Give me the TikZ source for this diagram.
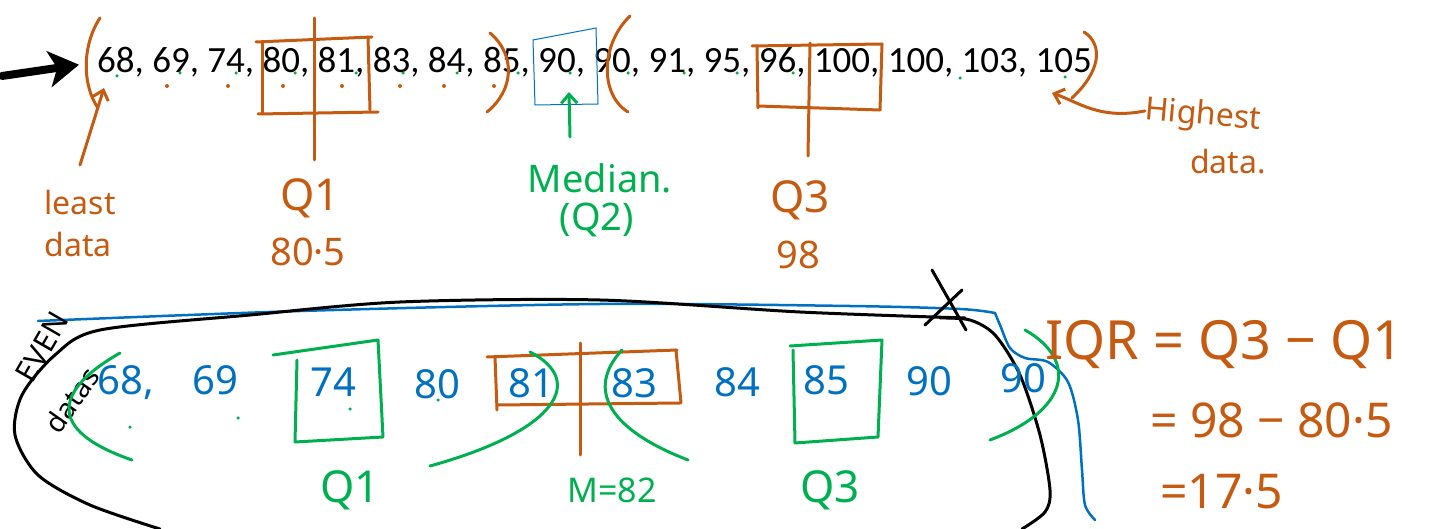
\documentclass[tikz,border=0pt]{standalone}
\usepackage{fontspec}
\setmainfont{Carlito}
\newfontfamily\hand{Noto Sans}
\usetikzlibrary{arrows.meta,calc}
\definecolor{orng}{HTML}{C55A11}
\definecolor{grn}{HTML}{00B050}
\definecolor{blu}{HTML}{0070C0}
\tikzset{
  ink/.style={line width=3pt,line cap=round,line join=round},
  oink/.style={ink,draw=orng},
  gink/.style={ink,draw=grn},
  bink/.style={ink,draw=blu,line width=2.5pt},
  kink/.style={ink,draw=black},
  hw/.style={inner sep=0pt,font=\hand},
  odot/.style={circle,fill=orng,inner sep=0pt,minimum size=4pt},
  gdot/.style={circle,fill=grn,inner sep=0pt,minimum size=4pt},
}
\begin{document}
\begin{tikzpicture}[x=1pt,y=-1pt]
\useasboundingbox (0,0) rectangle (1437,529);
% ---------- top data row ----------
\node[anchor=base west,inner sep=0pt,font=\fontsize{37}{40}\selectfont] (row) at (97,73)
  {68, 69, 74, 80, 81, 83, 84, 85, 90, 90, 91, 95, 96, 100, 100, 103, 105};
\coordinate (ain) at (2,76);
\draw[kink,line width=8pt,-{Stealth[length=30pt,width=36pt,inset=8pt]}] (ain) -- ($(row.west)+(-18,2)$);
% dots
\foreach \x in {167,228,283,342,400,444,494} \node[odot] at (\x,86) {};
\foreach \x/\y in {117/76,180/73,236/73,295/73,356/73,403/73,457/73,518/73,570/73,628/73,684/73,737/73,793/73,960/78,1065/77} \node[gdot,minimum size=3.5pt] at (\x,\y) {};
% parentheses
\draw[oink] (100,18) .. controls (82,45) and (82,85) .. (98,108);
\draw[oink] (490,33) .. controls (516,55) and (514,90) .. (487,112);
\draw[oink] (630,16) .. controls (600,45) and (600,95) .. (628,112);
\draw[oink] (1084,32) .. controls (1104,45) and (1100,72) .. (1072,98);
% Q1 box (top)
\draw[oink] (256,42) -- (372,37);
\draw[oink] (262,42) -- (262,114);
\draw[oink] (368,37) -- (370,110);
\draw[oink] (258,114) -- (378,112);
\draw[oink] (314,18) -- (314,160);
% Q3 box (top)
\draw[oink] (752,46) -- (882,44);
\draw[oink] (757,46) -- (758,108);
\draw[oink] (882,44) -- (880,110);
\draw[oink] (758,106) -- (880,110);
\draw[oink] (810,43) -- (808,156);
% median box
\draw[blu,line width=1pt] (533,40) -- (596,28) -- (598,104) -- (535,105) -- cycle;
\coordinate (b90s) at (569,92);
\coordinate (mtail) at (570,137);
\draw[gink,-{Straight Barb[length=9pt,width=16pt]}] (mtail) -- (b90s);
% labels
\node[hw,text=orng,font=\hand\fontsize{32}{34}\selectfont] (least) at (80,203) {least};
\node[hw,text=orng,font=\hand\fontsize{32}{34}\selectfont] (ldata) at (78,245) {data};
\coordinate (p68) at (104,88);
\draw[oink,-{Straight Barb[length=9pt,width=16pt]}] (80,165) -- (p68);
\node[hw,text=orng,font=\hand\fontsize{44}{46}\selectfont] (q1t) at (310,198) {Q1};
\node[hw,text=orng,font=\hand\fontsize{38}{40}\selectfont] (q1v) at (308,252) {80·5};
\node[hw,text=grn,font=\hand\fontsize{38}{40}\selectfont] (median) at (600,178) {Median.};
\node[hw,text=grn,font=\hand\fontsize{38}{40}\selectfont] (q2) at (597,220) {(Q2)};
\node[hw,text=orng,font=\hand\fontsize{44}{46}\selectfont] (q3t) at (800,200) {Q3};
\node[hw,text=orng,font=\hand\fontsize{38}{40}\selectfont] (q3v) at (798,255) {98};
\node[hw,text=orng,font=\hand\fontsize{32}{34}\selectfont,rotate=-5] (highest) at (1203,116) {Highest};
\node[hw,text=orng,font=\hand\fontsize{32}{34}\selectfont] (hdata) at (1228,162) {data.};
\coordinate (p105) at (1052,93);
\draw[oink,-{Straight Barb[length=9pt,width=16pt]}] (highest.west) .. controls (1100,120) and (1078,102) .. (p105);
% ---------- bottom: even data ----------
\draw[bink] plot[smooth] coordinates {(38,321) (300,311) (600,304) (850,306) (960,309) (995,313)};
\draw[bink] plot[smooth] coordinates {(995,313) (1000,325) (1010,348) (1025,358) (1048,362) (1068,382) (1078,420) (1082,470) (1085,505) (1095,520)};
\draw[kink] plot[smooth] coordinates {(160,529) (90,505) (38,475) (15,435) (22,395) (55,355) (100,330) (250,315) (400,302) (600,300) (800,312) (965,318)};
\draw[kink] plot[smooth] coordinates {(940,318) (970,320) (995,335) (1020,375) (1040,435) (1050,490) (1045,512) (1022,529)};
\draw[kink] (932,270) -- (966,330);
\draw[kink] (925,325) -- (962,290);
\node[inner sep=0pt,font={\hand\fontsize{30}{32}\selectfont\bfseries},rotate=60] (even) at (42,347) {EVEN};
\node[inner sep=0pt,font={\hand\fontsize{28}{30}\selectfont\bfseries},rotate=55] (datas) at (72,400) {datas};
% blue handwritten numbers
\foreach \t/\x/\y [count=\i] in {{68,}/126/383,69/215/380,74/333/382,80/437/384,81/531/383,83/634/383,84/737/382,85/826/380,90/929/381,90/1023/378}
  \node[hw,text=blu,font=\hand\fontsize{40}{42}\selectfont] (b\i) at (\x,\y) {\t};
\foreach \x/\y in {130/427,238/418,350/409,438/400}
  \node[gdot,minimum size=3.5pt] at (\x,\y) {};
% green boxes
\draw[gink] (273,355) -- (378,340) -- (383,437) -- (295,442) -- (297,360);
\draw[gink] (790,346) -- (882,340) -- (878,437) -- (795,443) -- (793,350);
% orange box around 81 83
\draw[oink] (487,357) -- (677,350);
\draw[oink] (495,357) -- (497,410);
\draw[oink] (497,405) -- (680,403);
\draw[oink] (676,350) -- (681,403);
\draw[oink] (580,343) -- (580,455);
% green brackets
\draw[gink] (120,353) .. controls (55,390) and (45,430) .. (132,460);
\draw[gink] (530,352) .. controls (585,380) and (560,430) .. (430,466);
\draw[gink] (622,350) .. controls (585,390) and (610,430) .. (688,460);
\draw[gink] (1025,330) .. controls (1078,360) and (1070,410) .. (990,440);
% bottom labels
\node[hw,text=grn,font=\hand\fontsize{44}{46}\selectfont] (q1b) at (350,490) {Q1};
\node[hw,text=grn,font=\hand\fontsize{34}{36}\selectfont] (mb) at (612,490) {M=82};
\node[hw,text=grn,font=\hand\fontsize{44}{46}\selectfont] (q3b) at (830,490) {Q3};
% IQR
\node[hw,text=orng,font=\hand\fontsize{54}{56}\selectfont,anchor=west] (iqr) at (1045,345) {IQR = Q3 − Q1};
\node[hw,text=orng,font=\hand\fontsize{48}{50}\selectfont,anchor=west] (iqr2) at (1150,420) {= 98 − 80·5};
\node[hw,text=orng,font=\hand\fontsize{48}{50}\selectfont,anchor=west] (iqr3) at (1160,492) {=17·5};
\end{tikzpicture}
\end{document}
